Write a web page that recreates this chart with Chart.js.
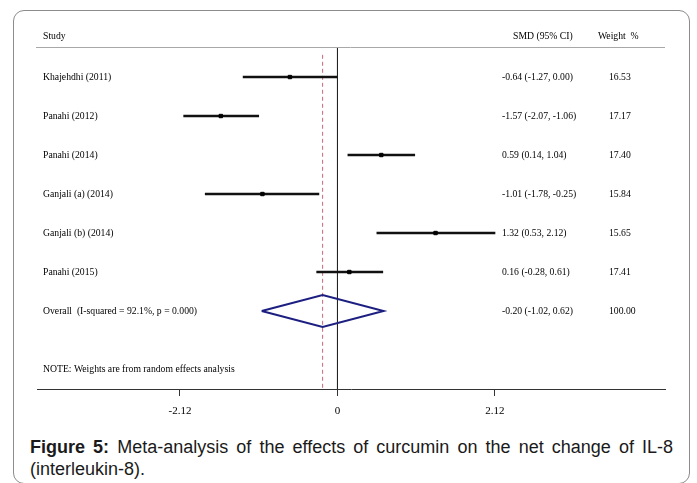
<!DOCTYPE html>
<html>
<head>
<meta charset="utf-8">
<script src="https://cdn.jsdelivr.net/npm/chart.js@4/dist/chart.umd.min.js"></script>
<style>
  html, body { margin: 0; padding: 0; background: #fff; }
  #page { position: relative; width: 697px; height: 483px; overflow: hidden; }
  #frame {
    position: absolute; left: 13px; top: 10px; width: 677px; height: 474px;
    border: 1px solid #8c8c8c; border-radius: 11px; box-sizing: border-box;
  }
  #plot { position: absolute; left: 0; top: 0; }
  #caption {
    position: absolute; left: 30px; top: 436px; width: 643px; text-align: justify;
    font-family: "Liberation Sans", Arial, sans-serif; font-size: 18px; line-height: 22px; color: #1a1a1a;
  }
  #caption b { font-weight: bold; }
</style>
</head>
<body>
<div id="page">
  <div id="frame"></div>
  <canvas id="plot" width="697" height="430"></canvas>
  <div id="caption"><b>Figure 5:</b> Meta-analysis of the effects of curcumin on the net change of IL-8 (interleukin-8).</div>
</div>
<script>
// Individual studies (standardised mean difference with 95% CI)
const studies = ['Khajehdhi (2011)', 'Panahi (2012)', 'Panahi (2014)', 'Ganjali (a) (2014)', 'Ganjali (b) (2014)', 'Panahi (2015)'];
const smd     = [-0.64, -1.57, 0.59, -1.01, 1.32, 0.16];
const lower   = [-1.27, -2.07, 0.14, -1.78, 0.53, -0.28];
const upper   = [ 0.00, -1.06, 1.04, -0.25, 2.12, 0.61];
const weights = [16.53, 17.17, 17.40, 15.84, 15.65, 17.41];

// Pooled random-effects estimate
const overallLabel = 'Overall  (I-squared = 92.1%, p = 0.000)';
const overallSmd = -0.20;
const overallLower = -1.02;
const overallUpper = 0.62;
const overallWeight = 100.00;

// Axis ticks
const tickValues = [-2.12, 0, 2.12];
const tickLabels = ['-2.12', '0', '2.12'];

const noteText = 'NOTE: Weights are from random effects analysis';

const serif = '"Liberation Serif", "Times New Roman", serif';
const overallRow = studies.length + 1;
const noteRow = overallRow + 1.5;
const yMin = 0.23, yMax = 9.0;
const diamondHalf = 0.41;

const fmt = v => v.toFixed(2);

const tablePlugin = {
  id: 'forestTable',
  afterDraw(chart) {
    const { ctx, chartArea, scales } = chart;
    const y = scales.y;
    ctx.save();
    // header rule
    ctx.strokeStyle = '#a8a8a8';
    ctx.lineWidth = 1;
    ctx.beginPath();
    ctx.moveTo(chartArea.left - 1, chartArea.top + 0.5);
    ctx.lineTo(chartArea.right, chartArea.top + 0.5);
    ctx.stroke();

    ctx.fillStyle = '#000';
    ctx.textBaseline = 'middle';
    ctx.textAlign = 'left';
    ctx.font = '9.7px ' + serif;
    const hy = chartArea.top - 11;
    ctx.fillText('Study', 43, hy);
    ctx.fillText('SMD (95% CI)', 513, hy);
    ctx.fillText('Weight  %', 598, hy);

    studies.forEach((s, i) => {
      const py = y.getPixelForValue(i + 1);
      ctx.fillText(s, 43, py);
      ctx.fillText(fmt(smd[i]) + ' (' + fmt(lower[i]) + ', ' + fmt(upper[i]) + ')', 502, py);
      ctx.fillText(fmt(weights[i]), 609, py);
    });
    const oy = y.getPixelForValue(overallRow);
    ctx.fillText(overallLabel, 43, oy);
    ctx.fillText(fmt(overallSmd) + ' (' + fmt(overallLower) + ', ' + fmt(overallUpper) + ')', 502, oy);
    ctx.fillText(fmt(overallWeight), 609, oy);
    ctx.fillText(noteText, 43, y.getPixelForValue(noteRow));
    ctx.restore();
  }
};

new Chart(document.getElementById('plot'), {
  type: 'scatter',
  data: {
    datasets: [
      {
        // pooled estimate reference (dashed)
        type: 'scatter', showLine: true, order: 6,
        data: [{ x: overallSmd, y: yMin + 0.2 }, { x: overallSmd, y: yMax }],
        borderColor: '#c76a78', borderWidth: 1, borderDash: [4, 3], pointRadius: 0
      },
      {
        // line of no effect
        type: 'scatter', showLine: true, order: 5,
        data: [{ x: 0, y: yMin }, { x: 0, y: yMax }],
        borderColor: '#222', borderWidth: 1, pointRadius: 0
      },
      {
        // confidence intervals
        type: 'bar', indexAxis: 'y', order: 3,
        data: studies.map((s, i) => ({ x: [lower[i], upper[i]], y: i + 1 })),
        backgroundColor: '#111', borderWidth: 0, barThickness: 2
      },
      {
        // point estimates
        type: 'scatter', order: 2,
        data: studies.map((s, i) => ({ x: smd[i], y: i + 1 })),
        backgroundColor: '#000', borderColor: '#000', pointRadius: 2.4, pointStyle: 'rect'
      },
      {
        // pooled diamond
        type: 'scatter', showLine: true, order: 1,
        data: [
          { x: overallLower, y: overallRow },
          { x: overallSmd, y: overallRow - diamondHalf },
          { x: overallUpper, y: overallRow },
          { x: overallSmd, y: overallRow + diamondHalf },
          { x: overallLower, y: overallRow }
        ],
        borderColor: '#1c1f80', borderWidth: 2, pointRadius: 0, tension: 0, borderJoinStyle: 'miter'
      }
    ]
  },
  options: {
    responsive: false,
    animation: false,
    events: [],
    layout: { padding: { left: 37, right: 32, top: 47, bottom: 11 } },
    plugins: { legend: { display: false }, tooltip: { enabled: false } },
    scales: {
      x: {
        type: 'linear', min: -4.044, max: 4.408, offset: false,
        afterBuildTicks: sc => { sc.ticks = tickValues.map(v => ({ value: v })); },
        afterFit: sc => { sc.height = 30; },
        ticks: {
          autoSkip: false, maxRotation: 0, padding: 9, color: '#000',
          font: { family: serif, size: 11 },
          callback: v => tickLabels[tickValues.indexOf(v)]
        },
        grid: { drawOnChartArea: false, drawTicks: true, tickLength: 7, color: '#333', lineWidth: 1, offset: false },
        border: { display: true, color: '#333', width: 1 }
      },
      y: {
        type: 'linear', reverse: true, min: yMin, max: yMax, display: false,
        offset: false, grid: { offset: false }
      }
    }
  },
  plugins: [tablePlugin]
});
</script>
</body>
</html>
